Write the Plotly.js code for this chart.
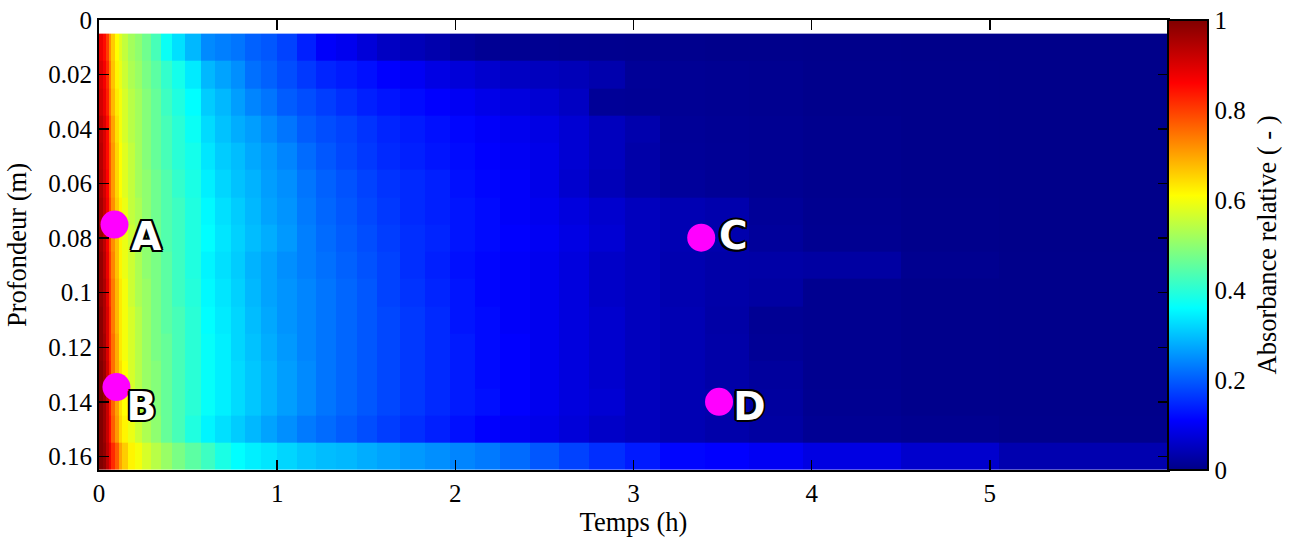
<!DOCTYPE html>
<html>
<head>
<meta charset="utf-8">
<script src="https://cdn.plot.ly/plotly-3.0.1.min.js"></script>
<style>html,body{margin:0;padding:0;background:#fff}</style>
</head>
<body>
<div id="chart" style="width:1289px;height:539px"></div>
<script>
const timeEdges = [0,.02,.04,.055,.07,.09,.11,.13,.16,.2,.24,.29,.35,.41,.48,.57,.65,.74,.82,.91,1,1.11,1.22,1.33,1.45,1.56,1.69,1.83,1.97,2.11,2.25,2.42,2.58,2.75,2.95,3.15,3.4,3.65,3.95,4.5,5.05,6];
const depthEdges = [.005,.015,.025,.035,.045,.055,.065,.075,.085,.095,.105,.115,.125,.135,.145,.155,.165];
const row01 = [.88,.85,.80,.72,.66,.61,.58,.55,.52,.50,.47,.43,.37,.33,.29,.245,.235,.225,.205,.195,.175,.14,.105,.095,.075,.055,.045,.035,.02,.012,.01,.01,.008,.007,.006,.006,.005,.005,.004,.003,.003];
const row02 = [.90,.87,.82,.74,.67,.62,.59,.56,.53,.51,.48,.45,.41,.38,.34,.29,.27,.25,.22,.205,.185,.165,.145,.135,.125,.11,.10,.085,.075,.065,.055,.05,.045,.035,.015,.012,.01,.008,.005,.004,.003];
const row03 = [.91,.88,.83,.75,.68,.63,.60,.57,.54,.52,.49,.46,.42,.39,.36,.31,.29,.265,.24,.225,.20,.185,.17,.155,.14,.13,.12,.11,.10,.09,.08,.07,.055,.015,.013,.012,.01,.008,.005,.004,.003];
const row04 = [.93,.90,.85,.77,.70,.64,.60,.57,.54,.52,.49,.46,.43,.40,.37,.325,.30,.28,.265,.245,.225,.20,.185,.175,.16,.145,.135,.125,.115,.105,.095,.085,.07,.05,.035,.015,.012,.01,.006,.004,.003];
const row05 = [.94,.90,.85,.78,.71,.65,.61,.58,.55,.52,.49,.46,.43,.40,.38,.335,.31,.295,.275,.26,.24,.215,.195,.18,.165,.15,.14,.13,.12,.11,.10,.09,.07,.05,.03,.016,.013,.01,.006,.004,.003];
const row06 = [.95,.91,.86,.78,.71,.65,.61,.58,.55,.52,.50,.47,.44,.41,.385,.345,.32,.30,.285,.265,.25,.225,.205,.19,.175,.16,.15,.14,.125,.115,.105,.09,.065,.045,.03,.018,.014,.01,.006,.004,.003];
const row07 = [.96,.92,.87,.79,.72,.66,.62,.59,.55,.53,.50,.47,.44,.42,.39,.355,.33,.31,.29,.27,.255,.23,.21,.195,.18,.165,.15,.14,.13,.12,.105,.095,.08,.065,.05,.04,.035,.016,.008,.005,.003];
const row08 = [.97,.93,.87,.79,.72,.67,.62,.59,.56,.53,.50,.47,.44,.42,.39,.36,.335,.315,.295,.28,.26,.235,.215,.20,.185,.17,.155,.145,.13,.12,.11,.10,.085,.07,.05,.04,.035,.018,.009,.005,.003];
const row09 = [.98,.94,.88,.80,.73,.67,.62,.59,.56,.53,.50,.48,.45,.42,.39,.35,.33,.31,.285,.27,.25,.235,.22,.205,.19,.175,.155,.14,.125,.115,.105,.095,.08,.06,.05,.038,.03,.028,.025,.008,.004];
const row10 = [.98,.95,.89,.81,.74,.68,.63,.60,.56,.53,.51,.48,.45,.42,.395,.355,.335,.315,.29,.27,.255,.24,.225,.21,.195,.175,.16,.145,.13,.115,.105,.095,.08,.06,.05,.038,.03,.025,.008,.005,.004];
const row11 = [.99,.95,.90,.82,.74,.68,.63,.60,.57,.54,.51,.48,.45,.43,.40,.36,.34,.32,.295,.275,.255,.24,.225,.21,.195,.18,.165,.15,.13,.12,.105,.095,.08,.065,.05,.04,.028,.012,.008,.005,.004];
const row12 = [.99,.96,.90,.82,.75,.69,.63,.60,.57,.54,.51,.48,.46,.43,.40,.365,.345,.32,.30,.28,.26,.24,.225,.21,.195,.18,.165,.15,.135,.12,.11,.095,.08,.065,.05,.04,.03,.014,.008,.005,.004];
const row13 = [1,.97,.91,.83,.75,.69,.64,.61,.57,.54,.51,.49,.46,.43,.40,.365,.345,.325,.305,.285,.265,.245,.225,.21,.195,.18,.165,.15,.135,.12,.11,.095,.08,.065,.05,.04,.03,.02,.008,.005,.004];
const row14 = [1,.97,.92,.84,.76,.70,.64,.61,.58,.55,.52,.49,.46,.43,.40,.365,.345,.325,.305,.285,.265,.245,.225,.21,.195,.18,.165,.15,.135,.125,.11,.095,.08,.07,.05,.04,.035,.022,.009,.005,.004];
const row15 = [1,.97,.92,.85,.77,.71,.65,.62,.59,.56,.53,.50,.46,.43,.39,.35,.33,.31,.29,.27,.25,.23,.215,.20,.185,.17,.155,.14,.125,.11,.10,.09,.075,.06,.05,.04,.032,.025,.012,.008,.005];
const row16 = [1,.98,.93,.88,.82,.77,.70,.66,.62,.60,.57,.54,.51,.48,.45,.42,.385,.36,.345,.335,.32,.305,.295,.29,.28,.27,.26,.25,.24,.23,.215,.195,.175,.155,.135,.115,.11,.10,.083,.064,.037];

const pointTimes = [.087,.098,3.38,3.48];
const pointDepths = [.075,.1346,.0798,.140];
const labelTimes = [.266,.238,3.56,3.65];
const labelDepths = [.0808,.143,.0805,.143];
const labelTexts = ['A','B','C','D'];
const xTicks = [0,1,2,3,4,5];
const yTicks = [0,.02,.04,.06,.08,.1,.12,.14,.16];
const yTickLabels = ['0','0.02','0.04','0.06','0.08','0.1','0.12','0.14','0.16'];
const barTicks = [0,.2,.4,.6,.8,1];
const barTickLabels = ['0','0.2','0.4','0.6','0.8','1'];

const jet = [[0,'rgb(0,0,135)'],[.11,'rgb(0,0,255)'],[.36,'rgb(0,255,255)'],[.61,'rgb(255,255,0)'],[.86,'rgb(255,0,0)'],[1,'rgb(128,0,0)']];
const serif = '"Liberation Serif", serif';
const domainEnd = 1070/1110;
const tickFont = {family: serif, size: 25, color: '#000'};
const titleFont = {family: serif, size: 26.5, color: '#000'};
const shadow = '-1.7px -1.7px 0 #000, 1.7px -1.7px 0 #000, -1.7px 1.7px 0 #000, 1.7px 1.7px 0 #000, 0 -2.2px 0 #000, 0 2.2px 0 #000, -2.2px 0 0 #000, 2.2px 0 0 #000';

const traces = [
  {type: 'heatmap', x: timeEdges, y: depthEdges,
   z: [row01,row02,row03,row04,row05,row06,row07,row08,row09,row10,row11,row12,row13,row14,row15,row16],
   zmin: 0, zmax: 1, zsmooth: false, colorscale: jet, hoverinfo: 'skip',
   colorbar: {x: domainEnd, xanchor: 'left', xpad: 0, ypad: 0, y: 0, yanchor: 'bottom', len: 1, lenmode: 'fraction',
     thickness: 40, thicknessmode: 'pixels', outlinecolor: '#000', outlinewidth: 2, ticks: '',
     tickmode: 'array', tickvals: barTicks, ticktext: barTickLabels, tickfont: tickFont, ticklabelposition: 'outside'}},
  {type: 'scatter', mode: 'markers', x: pointTimes, y: pointDepths, hoverinfo: 'skip', showlegend: false,
   marker: {size: 28, color: '#ff00ff', line: {width: 0}}},
  {type: 'scatter', mode: 'text', x: labelTimes, y: labelDepths, text: labelTexts, textposition: 'middle center',
   hoverinfo: 'skip', showlegend: false,
   textfont: {family: '"DejaVu Sans", sans-serif', size: 39, weight: 'bold', color: '#fff', shadow: shadow}},
  {type: 'scatter', mode: 'markers', x: [0], y: [0], yaxis: 'y2', marker: {opacity: 0}, hoverinfo: 'skip', showlegend: false},
  {type: 'scatter', mode: 'markers', x: [0], y: [0], yaxis: 'y3', marker: {opacity: 0}, hoverinfo: 'skip', showlegend: false}
];

const barAxis = {overlaying: 'y', anchor: 'free', side: 'right', range: [0,1], showgrid: false, zeroline: false,
  showline: false, showticklabels: false, tickmode: 'array', tickvals: barTicks, ticklen: 4, tickwidth: 1.5, tickcolor: '#000'};

const layout = {
  width: 1289, height: 539, showlegend: false,
  paper_bgcolor: '#fff', plot_bgcolor: '#fff',
  margin: {l: 98.5, r: 80.5, t: 20, b: 69, pad: 0},
  xaxis: {domain: [0, domainEnd], range: [0,6], tickmode: 'array', tickvals: xTicks, ticks: 'inside', ticklen: 10, tickwidth: 1.5,
    tickcolor: '#000', showgrid: false, zeroline: false, showline: true, linecolor: '#000', linewidth: 2, mirror: 'ticks',
    tickfont: tickFont, title: {text: 'Temps (h)', font: titleFont, standoff: 2}},
  yaxis: {range: [.165,0], tickmode: 'array', tickvals: yTicks, ticktext: yTickLabels, ticks: 'inside', ticklen: 10, tickwidth: 1.5,
    tickcolor: '#000', showgrid: false, zeroline: false, showline: true, linecolor: '#000', linewidth: 2, mirror: 'ticks',
    tickfont: tickFont, title: {text: 'Profondeur (m)', font: titleFont, standoff: 14}},
  yaxis2: Object.assign({}, barAxis, {position: domainEnd, ticks: 'outside'}),
  yaxis3: Object.assign({}, barAxis, {position: 1, ticks: 'inside'}),
  annotations: [{text: 'Absorbance relative ( - )', xref: 'paper', yref: 'paper', x: 1.0536, y: .5,
    xanchor: 'center', yanchor: 'middle', textangle: -90, showarrow: false, font: titleFont}]
};
Plotly.newPlot('chart', traces, layout, {displayModeBar: false, staticPlot: true});
</script>
</body>
</html>
